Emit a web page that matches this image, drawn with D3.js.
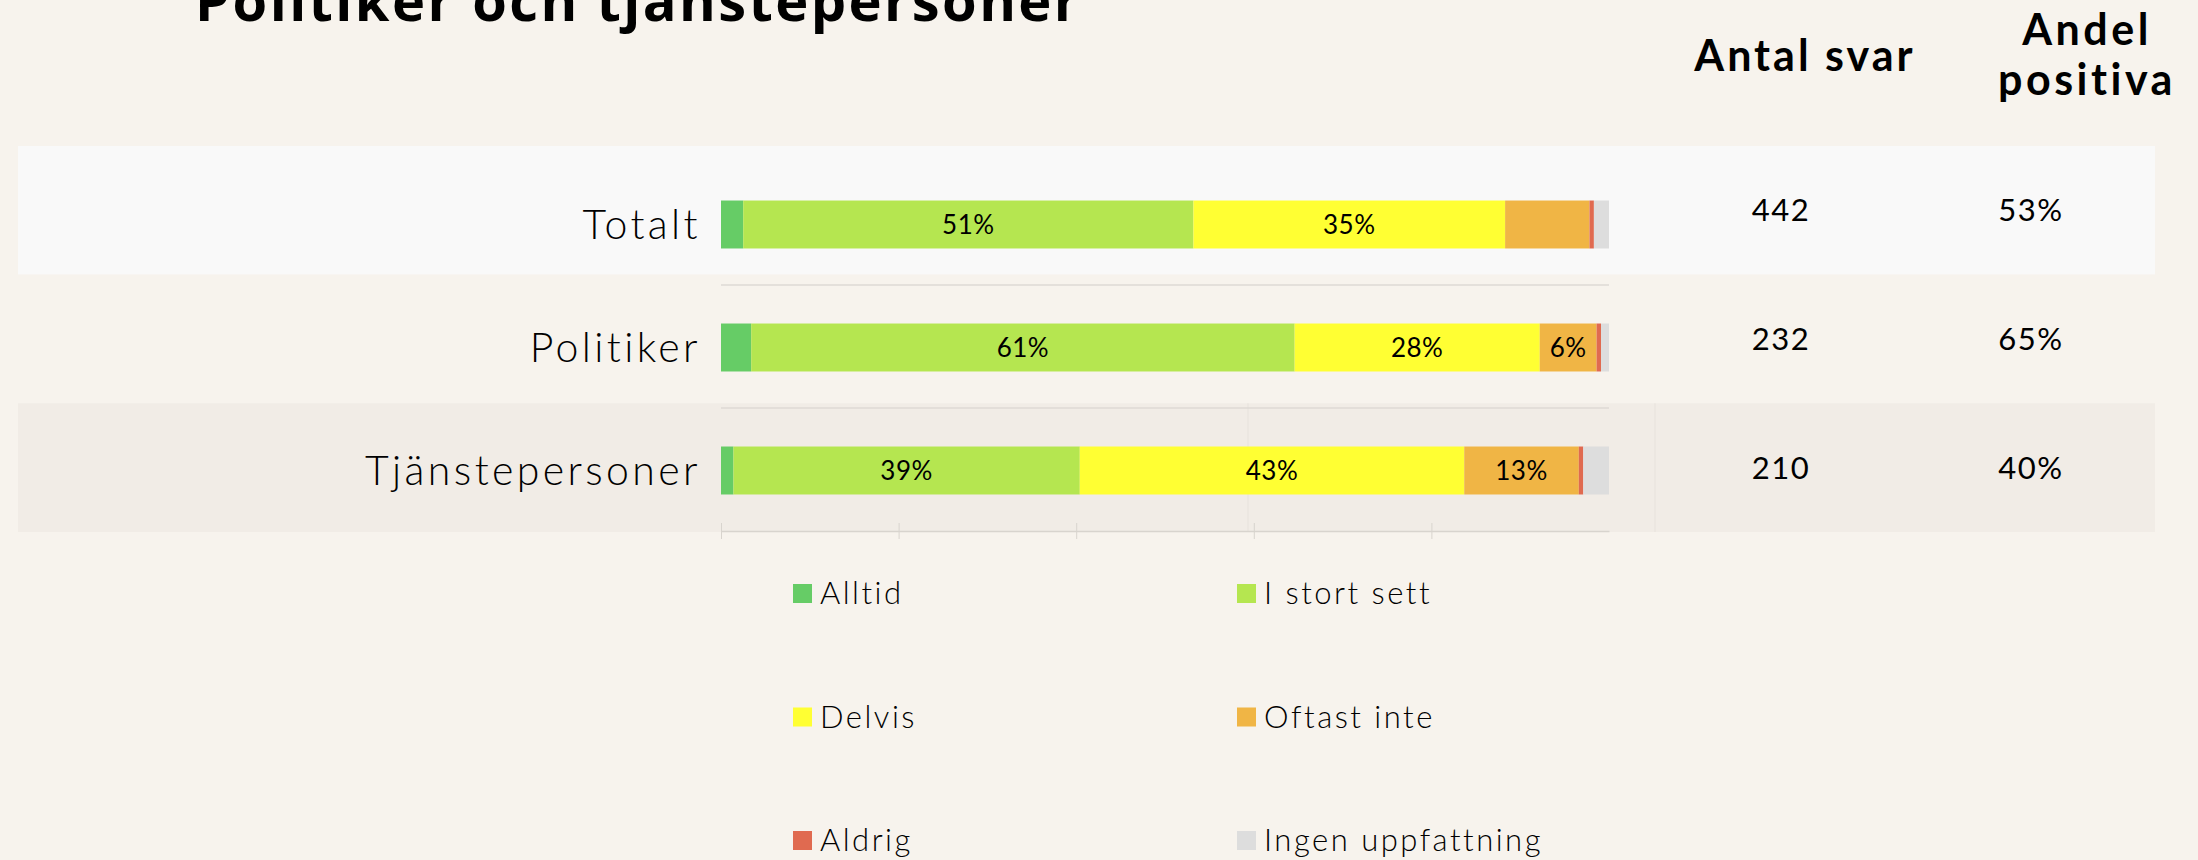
<!DOCTYPE html>
<html>
<head>
<meta charset="utf-8">
<script src="https://cdn.jsdelivr.net/npm/d3@7"></script>
<style>
  html, body { margin: 0; padding: 0; background: #f7f3ed; }
  svg { display: block; }
</style>
</head>
<body>
<div id="chart"></div>
<script>
var svgWidth = 2198;
var svgHeight = 860;

// data
var groups = ['Totalt', 'Politiker', 'Tjänstepersoner'];
var answers = ['Alltid', 'I stort sett', 'Delvis', 'Oftast inte', 'Aldrig', 'Ingen uppfattning'];
var shares = [
    [2.5, 50.7, 35.1, 9.5, 0.5, 1.7],   // Totalt
    [3.4, 61.2, 27.6, 6.4, 0.5, 0.9],   // Politiker
    [1.4, 39.0, 43.3, 12.9, 0.5, 2.9]   // Tjänstepersoner
];
var showLabel = [
    [false, true, true, false, false, false],
    [false, true, true, true, false, false],
    [false, true, true, true, false, false]
];
var antalSvar = [442, 232, 210];
var andelPositiva = ['53%', '65%', '40%'];
var colors = ['#66cc66', '#b5e650', '#ffff33', '#f0b545', '#e06a50', '#dddddd'];
var axisTicks = [0, 20, 40, 60, 80];

var svg = d3.select('#chart')
    .append('svg')
    .attr('width', svgWidth)
    .attr('height', svgHeight);

// title (cut at the top like the original)
svg.append('text')
    .attr('x', 195)
    .attr('y', 21)
    .attr('font-family', 'Open Sans')
    .attr('font-weight', 700)
    .attr('font-size', 56)
    .attr('letter-spacing', 2.4)
    .attr('fill', '#000')
    .text('Politiker och tjänstepersoner');

// table rows (background bands)
var tableY = d3.scaleBand()
    .domain(groups)
    .range([146, 532]);

var bandFill = ['#f9f9f9', '#f7f3ed', '#f1ece6'];
svg.append('g')
    .selectAll('rect')
    .data(groups)
    .enter()
    .append('rect')
    .attr('x', 18)
    .attr('y', d => tableY(d))
    .attr('width', 2155 - 18)
    .attr('height', tableY.bandwidth())
    .attr('fill', (d, i) => bandFill[i]);

// faint column lines inside the last band
svg.append('g')
    .selectAll('line')
    .data([1248, 1655])
    .enter()
    .append('line')
    .attr('x1', d => d)
    .attr('x2', d => d)
    .attr('y1', tableY('Tjänstepersoner'))
    .attr('y2', tableY('Tjänstepersoner') + tableY.bandwidth())
    .attr('stroke', '#e7e2dc')
    .attr('stroke-width', 1);

// bar chart
var xScale = d3.scaleLinear()
    .domain([0, 100])
    .range([721, 1609]);

var yScale = d3.scaleBand()
    .domain(groups)
    .range([162, 531])
    .paddingInner(0.61)
    .paddingOuter(0.305);

var step = yScale.step();

// row separators
svg.append('g')
    .selectAll('line')
    .data(groups.slice(0, 2))
    .enter()
    .append('line')
    .attr('x1', xScale(0))
    .attr('x2', xScale(100))
    .attr('y1', d => yScale(d) - yScale.paddingOuter() * step + step)
    .attr('y2', d => yScale(d) - yScale.paddingOuter() * step + step)
    .attr('stroke', '#dedad4')
    .attr('stroke-width', 1.5);

// bottom axis with ticks crossing the line
var xAxis = d3.axisBottom(xScale)
    .tickValues(axisTicks)
    .tickSizeOuter(0)
    .tickFormat('');

var axisG = svg.append('g')
    .attr('transform', `translate(0, 531)`)
    .call(xAxis);
axisG.select('.domain').attr('stroke', '#d8d4ce').attr('stroke-width', 1.5);
axisG.selectAll('.tick line')
    .attr('y1', -8)
    .attr('y2', 8)
    .attr('stroke', '#d8d4ce');

var stacked = [];
groups.forEach(function(g, gi) {
    var cum = 0;
    shares[gi].forEach(function(v, ai) {
        stacked.push({group: g, answer: answers[ai], x0: cum, x1: cum + v,
                      value: v, color: colors[ai], label: showLabel[gi][ai]});
        cum += v;
    });
});

svg.append('g')
    .selectAll('rect')
    .data(stacked)
    .enter()
    .append('rect')
    .attr('x', d => xScale(d.x0))
    .attr('y', d => yScale(d.group) + 1)
    .attr('width', d => xScale(d.x1) - xScale(d.x0))
    .attr('height', yScale.bandwidth())
    .attr('fill', d => d.color);

svg.append('g')
    .selectAll('text')
    .data(stacked.filter(d => d.label))
    .enter()
    .append('text')
    .attr('x', d => (xScale(d.x0) + xScale(d.x1)) / 2)
    .attr('y', d => yScale(d.group) + 1 + yScale.bandwidth() / 2)
    .attr('dy', '0.36em')
    .attr('text-anchor', 'middle')
    .attr('font-family', 'Lato')
    .attr('font-weight', 400)
    .attr('font-size', 26)
    .attr('letter-spacing', 0.5)
    .attr('fill', '#000')
    .text(d => Math.round(d.value) + '%');

// row labels
svg.append('g')
    .selectAll('text')
    .data(groups)
    .enter()
    .append('text')
    .attr('x', 701)
    .attr('y', d => yScale(d) + 1 + yScale.bandwidth() / 2)
    .attr('dy', '0.36em')
    .attr('text-anchor', 'end')
    .attr('font-family', 'Lato')
    .attr('font-weight', 300)
    .attr('font-size', 41)
    .attr('letter-spacing', 3.4)
    .attr('fill', '#000')
    .text(d => d);

// table headers
var header = svg.append('g')
    .attr('font-family', 'Lato')
    .attr('font-weight', 700)
    .attr('font-size', 43)
    .attr('text-anchor', 'middle')
    .attr('fill', '#000');
header.append('text').attr('x', 1805).attr('y', 71).attr('letter-spacing', 3).text('Antal svar');
header.append('text').attr('x', 2087).attr('y', 45).attr('letter-spacing', 3.5).text('Andel');
header.append('text').attr('x', 2087).attr('y', 95).attr('letter-spacing', 3.5).text('positiva');

// table values
var numG = svg.append('g')
    .attr('font-family', 'Lato')
    .attr('font-weight', 400)
    .attr('font-size', 31)
    .attr('text-anchor', 'middle')
    .attr('fill', '#000');

numG.selectAll('.antal')
    .data(antalSvar)
    .enter()
    .append('text')
    .attr('class', 'antal')
    .attr('x', 1781)
    .attr('y', (d, i) => tableY(groups[i]) + tableY.bandwidth() / 2)
    .attr('dy', '0.36em')
    .attr('letter-spacing', 1.5)
    .text(d => d);

numG.selectAll('.andel')
    .data(andelPositiva)
    .enter()
    .append('text')
    .attr('class', 'andel')
    .attr('x', 2031)
    .attr('y', (d, i) => tableY(groups[i]) + tableY.bandwidth() / 2)
    .attr('dy', '0.36em')
    .attr('letter-spacing', 1.5)
    .text(d => d);

// legend, two columns
var legend = svg.append('g');
var legendItems = legend.selectAll('g')
    .data(answers)
    .enter()
    .append('g')
    .attr('transform', (d, i) => `translate(${793 + (i % 2) * 444}, ${584 + Math.floor(i / 2) * 123.5})`);

legendItems.append('rect')
    .attr('width', 19)
    .attr('height', 19)
    .attr('fill', (d, i) => colors[i]);

legendItems.append('text')
    .attr('x', 27)
    .attr('y', 20)
    .attr('font-family', 'Lato')
    .attr('font-weight', 300)
    .attr('font-size', 31)
    .attr('letter-spacing', 2.5)
    .attr('fill', '#000')
    .text(d => d);
</script>
</body>
</html>
